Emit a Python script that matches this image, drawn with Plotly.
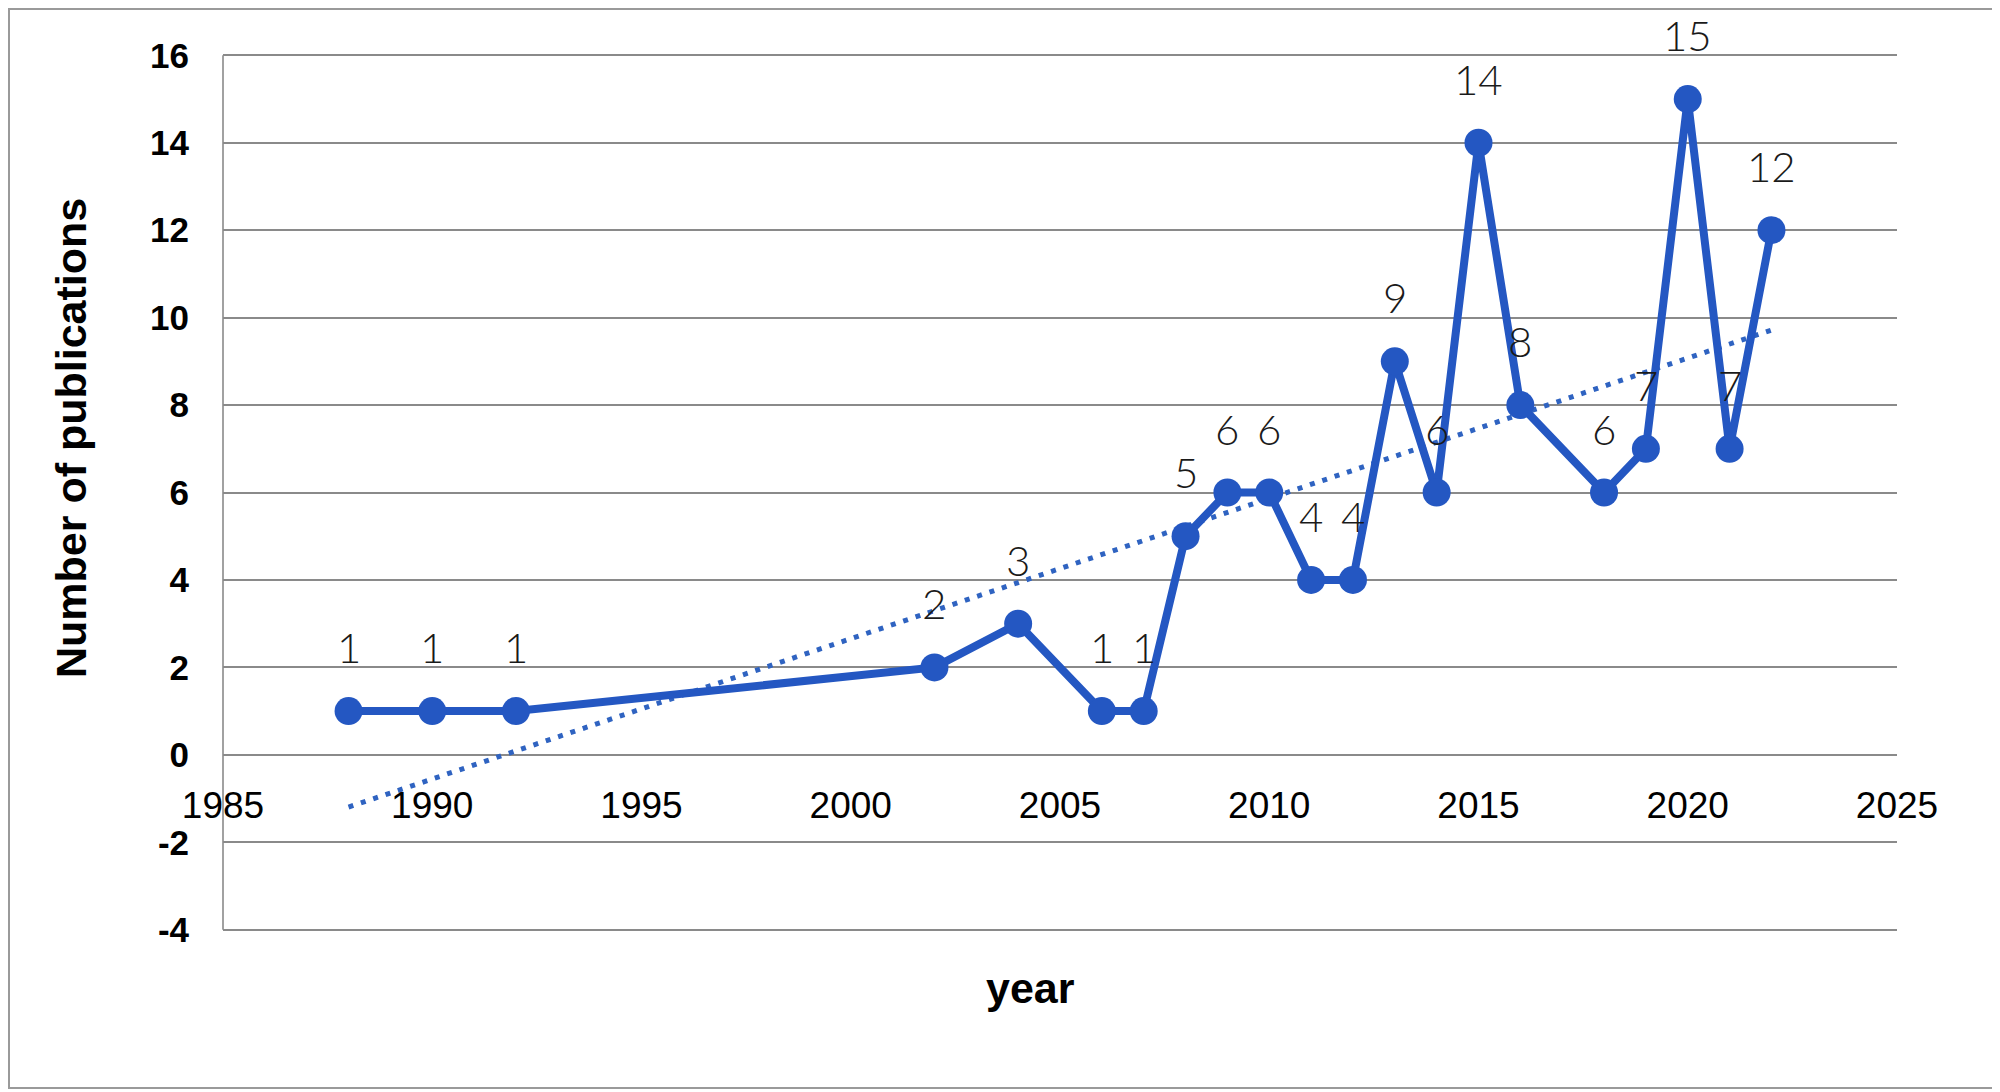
import numpy as np
import plotly.graph_objects as go

years = [1988, 1990, 1992, 2002, 2004, 2006, 2007, 2008, 2009, 2010, 2011,
         2012, 2013, 2014, 2015, 2016, 2018, 2019, 2020, 2021, 2022]
publications = [1, 1, 1, 2, 3, 1, 1, 5, 6, 6, 4, 4, 9, 6, 14, 8, 6, 7, 15, 7, 12]

x_ticks = [1985, 1990, 1995, 2000, 2005, 2010, 2015, 2020, 2025]
y_ticks = [-4, -2, 0, 2, 4, 6, 8, 10, 12, 14, 16]

# linear trendline (least squares fit of the data, like the spreadsheet trendline)
slope, intercept = np.polyfit(years, publications, 1)
trend_x = [years[0], years[-1]]
trend_y = [slope * v + intercept for v in trend_x]

W, H = 2000, 1092
L, R, T, B = 215, 1889, 46, 923
pw, ph = R - L, B - T
Y0, Y1 = -4.03, 16.03

BLUE = "#2457C2"
GRID = "#8a8a8a"

fig = go.Figure()
fig.add_trace(go.Scatter(
    x=trend_x, y=trend_y, mode="lines",
    line=dict(color="#2F63C1", width=5, dash="5px,8px"),
    hoverinfo="skip", showlegend=False))
fig.add_trace(go.Scatter(
    x=years, y=publications, mode="lines+markers",
    line=dict(color=BLUE, width=8),
    marker=dict(color=BLUE, size=28),
    showlegend=False))

annotations = []
for xv, yv in zip(years, publications):
    annotations.append(dict(
        x=xv, y=yv, xref="x", yref="y", text=str(yv), showarrow=False,
        yanchor="middle", yshift=64,
        font=dict(family="Lato", size=42, color="#1a1a1a", weight=300)))

annotations.append(dict(
    x=(63 - L) / pw, y=(B - 430) / ph, xref="paper", yref="paper",
    text="Number of publications", textangle=-90, showarrow=False,
    xanchor="center", yanchor="middle",
    font=dict(family="Liberation Sans", size=43, color="#000000", weight="bold")))
annotations.append(dict(
    x=(1022 - L) / pw, y=(B - 980) / ph, xref="paper", yref="paper",
    text="year", showarrow=False, xanchor="center", yanchor="middle",
    font=dict(family="Liberation Sans", size=43, color="#000000", weight="bold")))

fig.update_layout(
    width=W, height=H,
    margin=dict(l=L, r=W - R, t=T, b=H - B, autoexpand=False),
    paper_bgcolor="white", plot_bgcolor="white",
    annotations=annotations,
    xaxis=dict(
        range=[1985, 2025], tickvals=x_ticks, ticktext=[str(v) for v in x_ticks],
        showgrid=False, zeroline=False, showline=False, ticks="",
        anchor="free", position=(0 - Y0) / (Y1 - Y0), ticklabelstandoff=25,
        tickfont=dict(family="Liberation Sans", size=37, color="#000000")),
    yaxis=dict(
        range=[Y0, Y1], tickvals=y_ticks, ticktext=[str(v) for v in y_ticks],
        showgrid=True, gridcolor=GRID, gridwidth=1.6, zeroline=False,
        showline=False, ticks="",
        ticklabelstandoff=33,
        tickfont=dict(family="Liberation Sans", size=35, color="#000000", weight="bold")),
    shapes=[
        dict(type="line", xref="paper", yref="y", x0=0, x1=0, y0=-4, y1=16,
             line=dict(color=GRID, width=1.6), layer="below"),
        dict(type="rect", xref="paper", yref="paper",
             x0=(1 - L) / pw, x1=(1990 - L) / pw,
             y0=(B - 1080) / ph, y1=(B - 1) / ph,
             line=dict(color="#9a9a9a", width=2), fillcolor="rgba(0,0,0,0)",
             layer="below")],
)

fig.write_html("out.html")
